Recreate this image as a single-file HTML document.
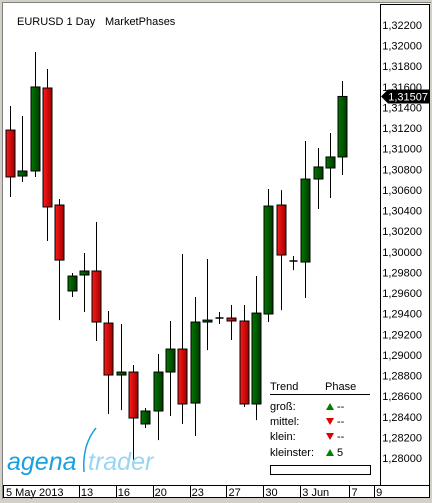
<!DOCTYPE html>
<html><head><meta charset="utf-8"><style>
body{margin:0;width:432px;height:503px;overflow:hidden;background:#d4d0c8;font-family:"Liberation Sans",sans-serif}
svg{display:block}
text{font-family:"Liberation Sans",sans-serif;font-size:11px}
</style></head><body>
<svg id="chart" width="432" height="503">
<defs>
<linearGradient id="gG" x1="0" x2="1"><stop offset="0" stop-color="#007a00"/><stop offset="1" stop-color="#003800"/></linearGradient>
<linearGradient id="gR" x1="0" x2="1"><stop offset="0" stop-color="#ff1a1a"/><stop offset="1" stop-color="#a00000"/></linearGradient>
</defs>
<rect x="0" y="0" width="432" height="503" fill="#d4d0c8"/>
<rect x="3" y="3" width="427" height="495" fill="#fff"/>
<line x1="2.5" y1="2" x2="2.5" y2="499" stroke="#808080"/>
<line x1="2" y1="2.5" x2="431" y2="2.5" stroke="#808080"/>
<text x="17" y="25">EURUSD 1 Day</text>
<text x="105" y="25">MarketPhases</text>
<rect x="380.5" y="4.5" width="49" height="481" fill="#fff" stroke="#000"/>
<rect x="3.5" y="485.5" width="426" height="12" fill="#fff" stroke="#000"/>
<g id="yticks"></g><g id="xticks"></g><g id="candles"></g>
<g id="lastprice"></g>
<g>
<text x="7" y="470" style="font-size:25px;font-style:italic" fill="#1aa0e0">agena</text>
<path d="M96 428 Q82 445 84 472" stroke="#1aa0e0" stroke-width="1.5" fill="none"/>
<text x="88" y="470" style="font-size:25px;font-style:italic" fill="#9ad6f2">trader</text>
</g>
<g>
<text x="270" y="390">Trend</text>
<text x="325" y="390">Phase</text>
<line x1="270" y1="394.5" x2="370" y2="394.5" stroke="#000"/>
<text x="270" y="410">groß:</text>
<text x="270" y="425">mittel:</text>
<text x="270" y="440">klein:</text>
<text x="270" y="456">kleinster:</text>
<polygon points="326,410 330,403 334,410" fill="#008000"/><text x="337" y="410">--</text>
<polygon points="326,418 334,418 330,425" fill="#e00000"/><text x="337" y="425">--</text>
<polygon points="326,433 334,433 330,440" fill="#e00000"/><text x="337" y="440">--</text>
<polygon points="326,456 330,449 334,456" fill="#008000"/><text x="337" y="456">5</text>
<rect x="270.5" y="465.5" width="100" height="9" fill="none" stroke="#000"/>
</g>
</svg>
<script>
const opens=[1.31181,1.30735,1.30784,1.31589,1.30454,1.29620,1.29775,1.29814,1.29309,1.28805,1.28834,1.28330,1.28456,1.28834,1.29057,1.28533,1.29319,1.29358,1.29358,1.29329,1.28524,1.29397,1.30454,1.29911,1.29901,1.30706,1.30813,1.30920];
const closes=[1.30726,1.30784,1.31599,1.30435,1.29920,1.29765,1.29814,1.29319,1.28805,1.28834,1.28388,1.28456,1.28834,1.29057,1.28524,1.29319,1.29338,1.29358,1.29329,1.28524,1.29406,1.30444,1.29969,1.29911,1.30706,1.30823,1.30920,1.31507];
const highs=[1.31414,1.31317,1.31938,1.31773,1.30512,1.29794,1.29988,1.30289,1.29426,1.29300,1.28902,1.28485,1.29009,1.29329,1.29979,1.29562,1.29930,1.29416,1.29484,1.29484,1.29765,1.30609,1.30599,1.29959,1.31075,1.31007,1.31152,1.31657];
const lows=[1.30532,1.30677,1.30726,1.30105,1.29338,1.29562,1.29416,1.29135,1.28427,1.28465,1.27951,1.28291,1.28174,1.28407,1.28330,1.28213,1.29047,1.29300,1.29145,1.28495,1.28368,1.29319,1.29435,1.29823,1.29552,1.30415,1.30522,1.30745];
const yTicks=[1.322,1.320,1.318,1.316,1.314,1.312,1.310,1.308,1.306,1.304,1.302,1.300,1.298,1.296,1.294,1.292,1.290,1.288,1.286,1.284,1.282,1.280];
const xLabels=["5 May 2013","13","16","20","23","27","30","3 Jun","7","9"];
const xLabelIdx=[-0.45,5.6,8.6,11.6,14.6,17.6,20.6,23.6,27.6,29.6];
const lastPrice=1.31507;
const NS="http://www.w3.org/2000/svg";
const y=v=>25+(1.322-v)*10310;
const x=i=>10+i*12.3;
function el(t,a,p){const e=document.createElementNS(NS,t);for(const k in a)e.setAttribute(k,a[k]);p.appendChild(e);return e;}
const fmt=v=>v.toFixed(5).replace('.',',');
const yg=document.getElementById('yticks');
yTicks.forEach(v=>{const t=el('text',{x:422,y:y(v)+4,'text-anchor':'end'},yg);t.textContent=fmt(v);

});
const xg=document.getElementById('xticks');
xLabels.forEach((s,k)=>{const px=k==0?4:x(xLabelIdx[k]);
if(k>0)el('line',{x1:Math.round(px)+0.5,y1:486,x2:Math.round(px)+0.5,y2:497,stroke:'#000'},xg);
const t=el('text',{x:px+2,y:496},xg);t.textContent=s;

});
const cg=document.getElementById('candles');
opens.forEach((o,i)=>{const c=closes[i],cx=Math.round(x(i))+0.5;
const g=el('g',{},cg);


el('line',{x1:cx,y1:y(highs[i]),x2:cx,y2:y(lows[i]),stroke:'#000'},g);
const top=y(Math.max(o,c)),bot=y(Math.min(o,c));
if(bot-top<1.5){el('line',{x1:cx-4,y1:top,x2:cx+4,y2:top,stroke:'#000','stroke-width':1.5},g);}
else el('rect',{x:cx-4.5,y:top,width:9,height:bot-top,fill:c>=o?'url(#gG)':'url(#gR)',stroke:'#000'},g);});
const lp=document.getElementById('lastprice'),ly=y(lastPrice);
el('polygon',{points:`381,${ly} 388,${ly-7} 430,${ly-7} 430,${ly+7} 388,${ly+7}`,fill:'#000'},lp);
const lt=el('text',{x:428,y:ly+4,'text-anchor':'end',fill:'#fff'},lp);lt.textContent=fmt(lastPrice);
</script>
</body></html>
